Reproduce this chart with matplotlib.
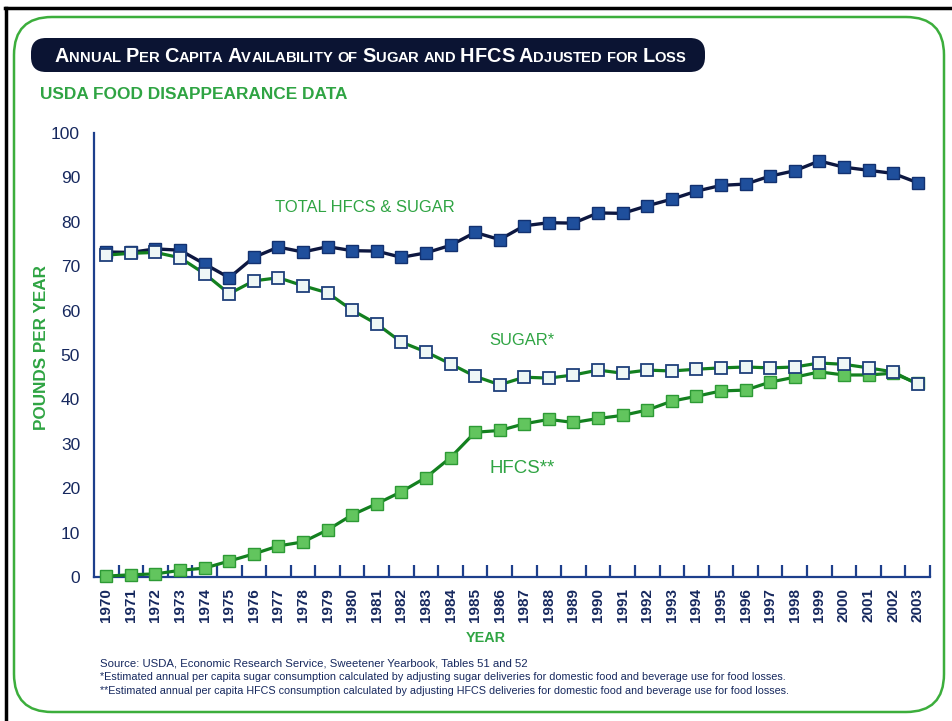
from matplotlib import pyplot as plt
from matplotlib.patches import FancyBboxPatch
from matplotlib.ticker import FixedLocator

# Data (pounds per person per year)
years = list(range(1970, 2004))
total = [73.2, 73.1, 73.9, 73.6, 70.5, 67.4, 72.0, 74.3, 73.2, 74.4,
         73.5, 73.4, 72.0, 73.0, 74.7, 77.6, 76.0, 79.1, 79.8, 79.7,
         82.0, 81.9, 83.6, 85.1, 86.9, 88.2, 88.5, 90.3, 91.5, 93.7,
         92.3, 91.6, 90.9, 88.8]
sugar = [72.5, 72.9, 73.1, 71.9, 68.3, 63.8, 66.7, 67.4, 65.6, 64.0,
         60.1, 57.0, 52.9, 50.7, 48.0, 45.2, 43.3, 45.0, 44.8, 45.5,
         46.6, 45.9, 46.6, 46.4, 46.8, 47.1, 47.3, 47.1, 47.3, 48.2,
         47.9, 47.1, 46.2, 43.4]
hfcs = [0.2, 0.5, 0.7, 1.5, 2.0, 3.6, 5.2, 7.0, 7.9, 10.6,
        14.0, 16.5, 19.2, 22.4, 26.9, 32.6, 33.0, 34.5, 35.5, 34.8,
        35.7, 36.4, 37.6, 39.6, 40.7, 41.9, 42.1, 43.9, 45.0, 46.2,
        45.5, 45.5, 45.9, 43.6]
y_labels = [0, 10, 20, 30, 40, 50, 60, 70, 80, 90, 100]

title_words = ['Annual', 'Per', 'Capita', 'Availability', 'of', 'Sugar',
               'and', 'HFCS', 'Adjusted', 'for', 'Loss']
footnotes = [
    'Source: USDA, Economic Research Service, Sweetener Yearbook, Tables 51 and 52',
    '*Estimated annual per capita sugar consumption calculated by adjusting sugar '
    'deliveries for domestic food and beverage use for food losses.',
    '**Estimated annual per capita HFCS consumption calculated by adjusting HFCS '
    'deliveries for domestic food and beverage use for food losses.',
]

NAVY = '#16285e'
DARK = '#0b1433'
GREEN = '#2fa443'
LINE_GREEN = '#13801f'
AXIS = '#1d3f8c'

# no condensed face is installed; Liberation Sans is the narrowest available
plt.rcParams['font.family'] = ['Liberation Sans', 'DejaVu Sans']

W, H = 953, 721
fig = plt.figure(figsize=(W / 100, H / 100), dpi=100)
renderer = fig.canvas.get_renderer()


def fit_text(ax, x, y, s, width, **kw):
    """Put text and scale its size so it spans about `width` pixels."""
    t = ax.text(x, y, s, fontsize=10, **kw)
    ext = t.get_window_extent(renderer)
    span = ext.height if kw.get('rotation') == 90 else ext.width
    t.set_fontsize(10 * width / span)
    return t


# Background layer in pixel coordinates
bg = fig.add_axes([0, 0, 1, 1], zorder=0)
bg.set_xlim(0, W)
bg.set_ylim(H, 0)
bg.axis('off')

bg.plot([5, W], [8, 8], color='black', lw=2.5)
bg.plot([6, 6], [8, H], color='black', lw=2.5)
bg.add_patch(FancyBboxPatch((14, 17), 930, 695,
                            boxstyle='round,pad=0,rounding_size=38',
                            fc='white', ec='#3cae3c', lw=1.8))
bg.add_patch(FancyBboxPatch((31, 38), 674, 34,
                            boxstyle='round,pad=0,rounding_size=15',
                            fc=DARK, ec='none'))


# Title in small caps, placed letter by letter
def draw_title(scale):
    x = 55
    pieces = []
    for word in title_words:
        for i, ch in enumerate(word):
            big = ch.isupper() and (i == 0 or word.isupper())
            size = (15.5 if big else 11.5) * scale
            t = bg.text(x, 62, ch.upper(), color='white', fontsize=size,
                        fontweight='bold', ha='left', va='baseline')
            x += t.get_window_extent(renderer).width
            pieces.append(t)
        x += 5 * scale
    return x - 5 * scale - 55, pieces


width, pieces = draw_title(1.0)
for p in pieces:
    p.remove()
draw_title(633 / width)

fit_text(bg, 40, 99, 'USDA FOOD DISAPPEARANCE DATA', 307, color=GREEN,
         fontweight='bold', ha='left', va='baseline')

foot_widths = [430, 682, 683]
for i, line in enumerate(footnotes):
    fit_text(bg, 100, 667 + i * 13.5, line, foot_widths[i], color=NAVY,
             ha='left', va='baseline')

# Main chart
ax = fig.add_axes([94 / W, 1 - 577 / H, (930 - 94) / W, (577 - 133) / H], zorder=1)
ax.patch.set_alpha(0)

ax.plot(years, hfcs, color=LINE_GREEN, lw=2.3, marker='s', ms=8.5,
        mfc='#62c55e', mec='#2d9a35', mew=1.0, zorder=3, clip_on=False)
ax.plot(years, total, color='#0d1740', lw=2.4, marker='s', ms=8.5,
        mfc='#1f4f9c', mec='#123170', mew=1.0, zorder=4, clip_on=False)
ax.plot(years, sugar, color=LINE_GREEN, lw=2.3, marker='s', ms=8.5,
        mfc='#eef7f6', mec='#1e3f7a', mew=1.3, zorder=5, clip_on=False)

ax.set_xlim(1969.5, 2003.5)
ax.set_ylim(0, 100)

for s in ['top', 'right']:
    ax.spines[s].set_visible(False)
for s in ['left', 'bottom']:
    ax.spines[s].set_color(AXIS)
    ax.spines[s].set_linewidth(1.6)

# y: labels every 10, tick marks every 20
ax.set_yticks(y_labels)
ax.set_yticklabels([str(v) for v in y_labels], color=NAVY, fontsize=12.5)
ax.tick_params(axis='y', which='major', length=0, pad=10)
ax.yaxis.set_minor_locator(FixedLocator([20, 40, 60, 80, 100]))
ax.tick_params(axis='y', which='minor', direction='in', length=20,
               width=1.6, color=AXIS)

# x: year labels at points, tick marks between categories
ax.set_xticks(years)
ax.set_xticklabels([str(y) for y in years], rotation=90, color=NAVY,
                   fontsize=11, fontweight='bold')
ax.tick_params(axis='x', which='major', length=0, pad=8)
ax.xaxis.set_minor_locator(FixedLocator([y + 0.5 for y in years]))
ax.tick_params(axis='x', which='minor', direction='in', length=9,
               width=1.6, color=AXIS)

fit_text(ax, 1980.5, 83.3, 'TOTAL HFCS & SUGAR', 180, color=GREEN,
         ha='center', va='center')
fit_text(ax, 1986.9, 53.2, 'SUGAR*', 65, color=GREEN,
         ha='center', va='center')
fit_text(ax, 1986.9, 24.4, 'HFCS**', 65, color=GREEN,
         ha='center', va='center')

fit_text(bg, 42, 348, 'POUNDS PER YEAR', 165, color=GREEN,
         fontweight='bold', rotation=90, ha='center', va='center')
fit_text(bg, 486, 638, 'YEAR', 40, color=GREEN,
         fontweight='bold', ha='center', va='center')

fig.savefig('out.png', dpi=100)
